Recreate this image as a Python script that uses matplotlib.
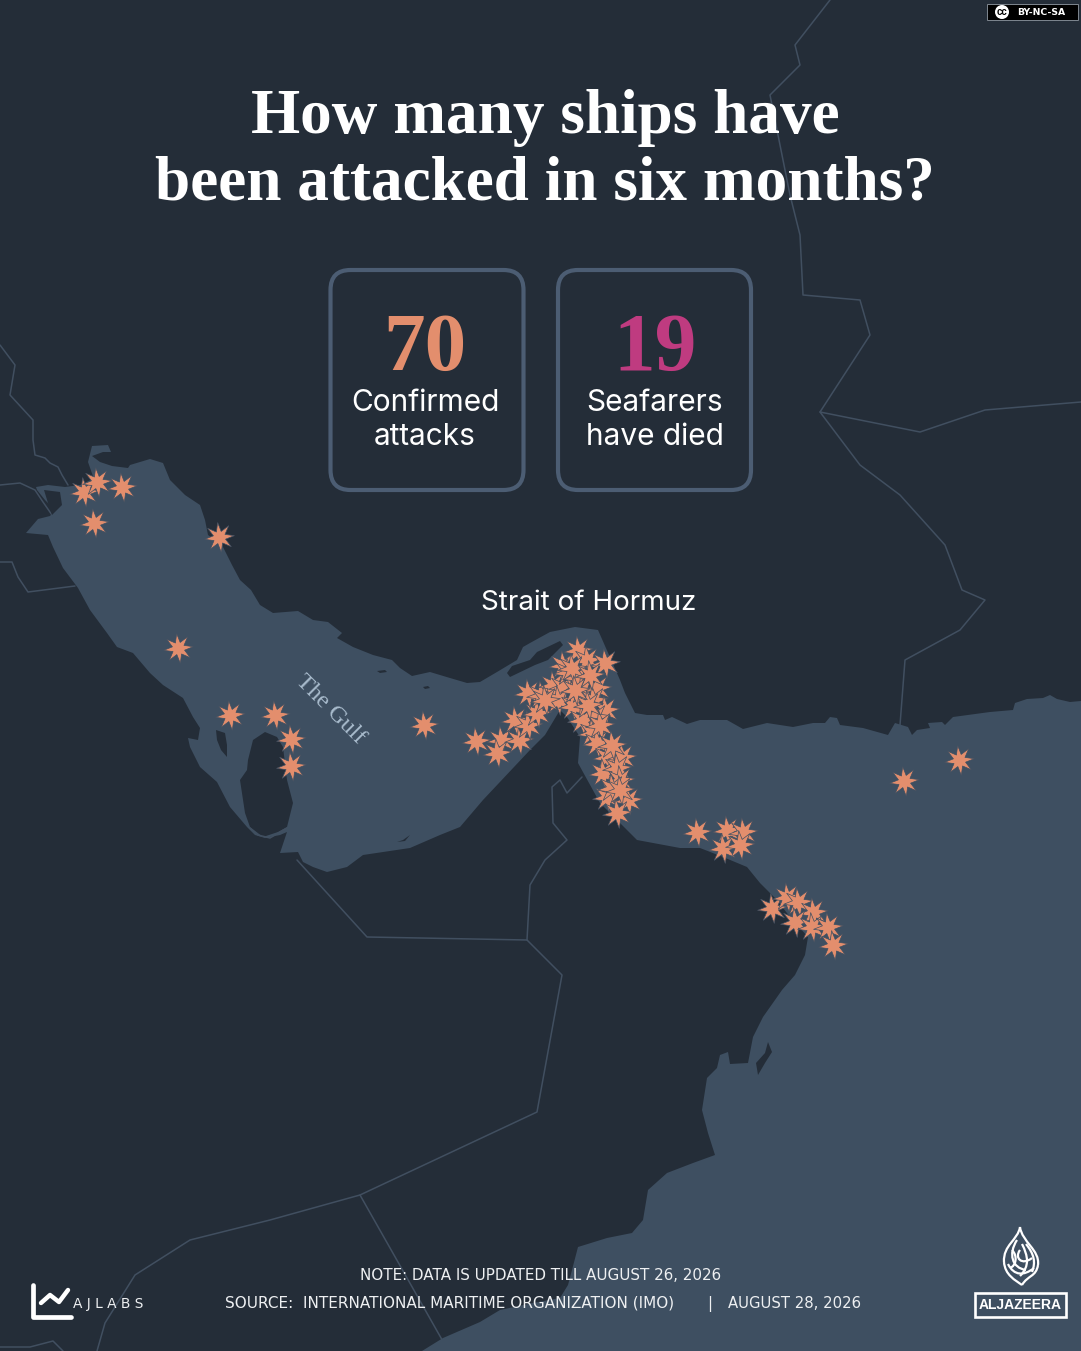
import matplotlib
matplotlib.use("Agg")
import matplotlib.pyplot as plt
from matplotlib.markers import MarkerStyle
from matplotlib.patches import Circle, FancyBboxPatch, PathPatch, Rectangle
from matplotlib.path import Path
from matplotlib.transforms import Affine2D

BG = "#242d38"
SEA = "#3e4f61"
BORDER = "#414f60"
STAR = "#e38e6d"
PINK = "#bf3b80"
BOX = "#4c5d73"
WHITE = "#ffffff"
FOOT = "#eef0f2"
SANS = ["Inter", "DejaVu Sans"]
SERIF = "Liberation Serif"

# map shapes, in picture units (x right, y down)
sea_coast = [
    (26, 533), (38, 519), (50, 516), (55, 510), (45, 500), (37, 490), (36, 487), (48, 485),
    (65, 487), (80, 485), (95, 478), (113, 473), (128, 468), (130, 465), (150, 459), (163, 463),
    (170, 480), (185, 495), (200, 505), (205, 520), (208, 535), (222, 545), (232, 565), (240, 580),
    (251, 590), (260, 605), (273, 613), (298, 611), (313, 620), (328, 622), (342, 633), (337, 638),
    (353, 647), (373, 655), (392, 660), (400, 668), (412, 676), (430, 672), (450, 678), (467, 683),
    (480, 682), (497, 672), (517, 660), (523, 647), (530, 643), (550, 632), (575, 627), (598, 630),
    (620, 680), (625, 693), (635, 713), (647, 715), (663, 715), (665, 720), (672, 717), (687, 724),
    (700, 720), (727, 720), (743, 729), (767, 723), (793, 727), (813, 723), (825, 723), (830, 717),
    (837, 718), (840, 725), (863, 728), (888, 735),
    (895, 723), (908, 727), (912, 735), (917, 730), (930, 728), (928, 723), (942, 722),
    (945, 725), (953, 717), (990, 712), (1013, 710), (1015, 703), (1027, 699), (1043, 698),
    (1050, 695), (1057, 699), (1070, 702), (1081, 701), (1081, 1351), (422, 1351), (443, 1338),
    (480, 1322), (500, 1310), (533, 1303), (560, 1298), (568, 1285), (572, 1270), (578, 1247),
    (607, 1238), (632, 1233), (643, 1220), (648, 1190), (667, 1173), (693, 1163), (715, 1155),
    (708, 1133), (702, 1110), (707, 1078), (717, 1068), (720, 1055), (728, 1052), (730, 1064),
    (748, 1063), (753, 1037), (763, 1017), (775, 1000), (782, 990), (795, 975), (805, 955),
    (808, 937), (790, 917), (777, 900), (760, 883), (747, 867), (723, 857), (700, 848), (680, 848),
    (637, 840), (600, 803), (578, 763), (580, 737), (567, 717), (560, 710), (545, 735), (530, 750),
    (483, 800), (460, 827), (440, 835), (410, 848), (363, 855), (347, 867), (327, 872), (313, 867),
    (303, 862), (298, 852), (280, 853), (287, 832), (280, 835), (265, 838), (255, 835), (247, 827),
    (230, 807), (217, 782), (200, 767), (190, 747), (188, 738), (198, 740), (200, 728), (193, 717),
    (183, 698), (163, 685), (150, 673), (133, 653), (117, 647), (107, 633), (90, 610), (78, 588),
    (63, 568), (53, 547), (48, 535),
]
shatt_water = [
    (92, 446), (108, 445), (111, 452), (103, 452), (92, 456), (100, 462), (112, 466), (128, 468),
    (132, 478), (95, 482), (88, 462),
]
bubiyan = [(44, 490), (60, 492), (62, 505), (52, 515), (48, 503)]
qatar = [
    (265, 732), (253, 740), (248, 760), (247, 770), (240, 780), (245, 813), (250, 827), (263, 837),
    (278, 832), (287, 827), (293, 803), (287, 780), (283, 747), (277, 737),
]
bahrain = [(216, 730), (225, 733), (227, 745), (227, 757), (221, 750), (217, 740)]
qeshm = [
    (507, 673), (512, 666), (530, 660), (537, 652), (560, 641), (563, 645), (548, 660), (535, 665),
    (510, 677),
]
masirah = [(768, 1042), (772, 1052), (765, 1063), (758, 1075), (756, 1063), (765, 1053)]
gulf_isle_a = [(377, 671), (385, 670), (387, 672), (380, 673)]
gulf_isle_b = [(423, 687), (428, 686), (430, 688), (425, 689)]
gulf_isle_c = [(397, 842), (403, 840), (410, 835), (405, 841)]

iran_north = [
    (830, 0), (795, 45), (800, 65), (770, 95), (780, 145), (790, 195), (800, 235), (803, 295),
    (860, 300), (870, 335), (820, 412), (920, 432), (985, 410), (1081, 402),
]
iran_pakistan = [
    (820, 412), (860, 465), (900, 495), (945, 545), (962, 590), (985, 600), (960, 630), (905, 660),
    (900, 725),
]
iraq_iran = [
    (0, 345), (15, 365), (10, 395), (33, 420), (33, 440), (35, 455), (45, 458), (50, 463), (58, 467),
    (62, 475), (68, 485),
]
iraq_kuwait = [(0, 485), (20, 483), (35, 490), (43, 502), (52, 515)]
kuwait_saudi = [(0, 562), (12, 562), (18, 577), (28, 592), (75, 586)]
saudi_east = [
    (297, 860), (367, 937), (527, 940), (562, 975), (537, 1112), (360, 1195), (445, 1345),
]
yemen_saudi = [(360, 1195), (270, 1220), (190, 1240), (135, 1275), (105, 1323), (97, 1351)]
bottom_left = [(0, 1347), (30, 1347), (53, 1341), (63, 1351)]
uae_oman = [
    (527, 940), (530, 885), (545, 860), (567, 840), (553, 823), (552, 787), (560, 780), (567, 793),
    (582, 777),
]
qatar_saudi = [(250, 828), (258, 835), (270, 838), (280, 832), (287, 828)]

# attack locations
attack_x = [
    84, 97, 122, 94, 219, 178, 230, 275, 291, 291, 424, 476,
    501, 497, 519, 515, 528, 537, 528, 541, 553, 563, 558, 573, 563, 568, 578, 587, 605, 577, 582,
    597, 593, 605, 595, 582, 592, 597, 607, 622, 603, 617, 620, 607, 628, 617, 612,
    572, 545, 590, 600, 612, 588, 620, 575,
    697, 727, 743, 723, 740, 772, 787, 798, 813, 795, 812, 828, 833,
    904, 959,
]
attack_y = [
    492, 482, 487, 523, 537, 648, 715, 715, 739, 766, 725, 741,
    740, 753, 740, 720, 725, 713, 693, 695, 685, 687, 700, 706, 665, 672, 650, 660, 663, 677, 690,
    688, 700, 710, 717, 720, 733, 743, 757, 757, 773, 768, 780, 797, 800, 813, 788,
    668, 700, 675, 725, 745, 705, 790, 690,
    832, 830, 832, 848, 845, 908, 897, 902, 912, 922, 927, 927, 945,
    781, 760,
]

title_lines = ["How many ships have", "been attacked in six months?"]
stats = ["70", "19"]
stat_labels = ["Confirmed\nattacks", "Seafarers\nhave died"]

fig = plt.figure(figsize=(10.81, 13.51), dpi=100, facecolor=BG)
ax = fig.add_axes([0, 0, 1, 1])
ax.set_xlim(0, 1081)
ax.set_ylim(1351, 0)
ax.axis("off")


def poly(points, color, zorder):
    xs, ys = zip(*points)
    ax.fill(xs, ys, color=color, lw=0, zorder=zorder)


def line(points, zorder=1, lw=1.1, color=BORDER):
    xs, ys = zip(*points)
    ax.plot(xs, ys, color=color, lw=lw, zorder=zorder, solid_joinstyle="round", solid_capstyle="round")


for border in [iran_north, iran_pakistan, iraq_iran, iraq_kuwait, kuwait_saudi, saudi_east,
               yemen_saudi, bottom_left, uae_oman]:
    line(border)

poly(sea_coast, SEA, 2)
poly(shatt_water, SEA, 2)
for island in [bubiyan, qatar, bahrain, qeshm, masirah, gulf_isle_a, gulf_isle_b, gulf_isle_c]:
    poly(island, BG, 3)
line(qatar_saudi, zorder=4)

star_path = Path.unit_regular_star(8, innerCircle=0.42).transformed(Affine2D().rotate_deg(7))
ax.scatter(attack_x, attack_y, s=460, marker=MarkerStyle(star_path), color=STAR,
           edgecolor=SEA, linewidth=0.5, zorder=6)

# title
ax.text(545, 133, title_lines[0], ha="center", va="baseline", color=WHITE, fontsize=45.5,
        family=SERIF, weight="bold", zorder=8)
ax.text(545, 200, title_lines[1], ha="center", va="baseline", color=WHITE, fontsize=45.5,
        family=SERIF, weight="bold", zorder=8)

# stat boxes
for x0, x1, xc, num, lab, col in zip([330.5, 558], [523.5, 751], [425, 655], stats, stat_labels, [STAR, PINK]):
    ax.add_patch(FancyBboxPatch((x0 + 20, 290), x1 - x0 - 40, 180, boxstyle="round,pad=20,rounding_size=20",
                                fc=BG, ec=BOX, lw=3, zorder=7))
    ax.text(xc, 370, num, ha="center", va="baseline", color=col, fontsize=60,
            family=SERIF, weight="bold", zorder=8)
    first, second = lab.split("\n")
    ax.text(xc, 411, first, ha="center", va="baseline", color=WHITE, fontsize=21.5, family=SANS, zorder=8)
    ax.text(xc, 445, second, ha="center", va="baseline", color=WHITE, fontsize=21.5, family=SANS, zorder=8)

# map labels
ax.text(589, 610, "Strait of Hormuz", ha="center", va="baseline", color=WHITE, fontsize=20,
        family=SANS, zorder=8)
ax.text(330, 709, "The Gulf", ha="center", va="center", color="#a9bccd", fontsize=17.5, family=SERIF,
        rotation=-45, rotation_mode="anchor", zorder=8)

# footer
ax.text(541, 1280, "NOTE: DATA IS UPDATED TILL AUGUST 26, 2026", ha="center", va="baseline", color=FOOT,
        fontsize=10.9, family="DejaVu Sans", zorder=8)
ax.text(225, 1308, "SOURCE:  INTERNATIONAL MARITIME ORGANIZATION (IMO)", ha="left", va="baseline",
        color=FOOT, fontsize=11, family="DejaVu Sans", zorder=8)
ax.text(710, 1308, "|", ha="center", va="baseline", color=FOOT, fontsize=10.9, family="DejaVu Sans", zorder=8)
ax.text(728, 1308, "AUGUST 28, 2026", ha="left", va="baseline", color=FOOT, fontsize=10.7,
        family="DejaVu Sans", zorder=8)

# AJ Labs mark
line([(33, 1285), (33, 1317), (71, 1317)], zorder=8, lw=3.4, color=WHITE)
line([(41, 1303), (50, 1295), (59, 1302), (68, 1290)], zorder=8, lw=3.2, color=WHITE)
ax.text(73, 1308, "A J L A B S", ha="left", va="baseline", color=FOOT, fontsize=9.9,
        family="DejaVu Sans", zorder=8)

# Al Jazeera mark
curves = [
    [(1020, 1227), (1018, 1240), (1003, 1245), (1004, 1262)],
    [(1004, 1262), (1005, 1275), (1015, 1280), (1022, 1285)],
    [(1020, 1227), (1022, 1242), (1040, 1250), (1038, 1265)],
    [(1038, 1265), (1036, 1277), (1028, 1275), (1022, 1285)],
    [(1017, 1240), (1008, 1254), (1012, 1268), (1026, 1270)],
    [(1022, 1244), (1028, 1256), (1030, 1266), (1020, 1276)],
    [(1012, 1250), (1018, 1256), (1016, 1266), (1010, 1268)],
    [(1020, 1250), (1014, 1258), (1022, 1266), (1032, 1258)],
    [(1008, 1264), (1014, 1276), (1024, 1276), (1034, 1268)],
    [(1026, 1244), (1034, 1254), (1036, 1262), (1032, 1272)],
]
for c in curves:
    path = Path(c, [Path.MOVETO, Path.CURVE4, Path.CURVE4, Path.CURVE4])
    ax.add_patch(PathPatch(path, fc="none", ec=WHITE, lw=1.6, zorder=8))
ax.add_patch(Rectangle((975, 1293), 91, 24, fc="none", ec=WHITE, lw=1.9, zorder=8))
ax.text(1020.5, 1305, "ALJAZEERA", ha="center", va="center", color=WHITE, fontsize=10, weight="bold",
        family="Liberation Sans", zorder=8)

# licence badge
ax.add_patch(Rectangle((987, 4), 91, 16, fc="#000000", ec="#7f8790", lw=0.7, zorder=8))
ax.add_patch(Circle((1002, 12), 7, fc=WHITE, ec="none", zorder=9))
ax.text(1002, 12, "cc", ha="center", va="center", color="#000000", fontsize=7, weight="bold",
        family="Liberation Sans", zorder=10)
ax.text(1041, 12.5, "BY-NC-SA", ha="center", va="center", color=WHITE, fontsize=6.7, weight="bold",
        family="DejaVu Sans", zorder=10)

fig.savefig("out.png", dpi=100, facecolor=BG)
